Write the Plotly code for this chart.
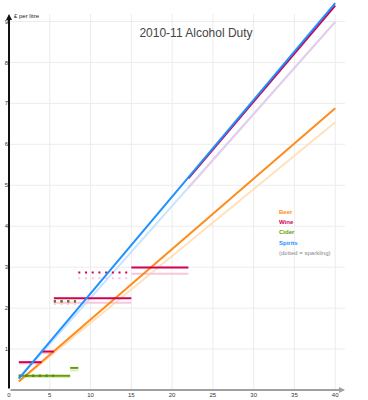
import plotly.graph_objects as go

# ---------------- Data (GBP duty per litre vs %ABV) ----------------
beer_abv = [1.2, 40]
beer_duty = [0.21, 6.88]
beer_duty_prev = [0.20, 6.54]

spirits_abv = [1.2, 40]
spirits_duty = [0.28, 9.45]
spirits_duty_prev = [0.27, 8.99]

wine_band_lo = [1.2, 4.0, 5.5, 15.0]
wine_band_hi = [4.0, 5.5, 15.0, 22.0]
wine_duty = [0.68, 0.94, 2.24, 2.99]
wine_duty_prev = [0.65, 0.90, 2.13, 2.84]

wine_strong_abv = [22, 40]
wine_strong_duty = [5.17, 9.39]
wine_strong_duty_prev = [4.94, 8.99]

spk_wine_lo = [5.5, 8.5]
spk_wine_hi = [8.5, 15.0]
spk_wine_duty = [2.17, 2.87]
spk_wine_duty_prev = [2.10, 2.73]

cider_band_lo = [1.2, 7.5]
cider_band_hi = [7.5, 8.5]
cider_duty = [0.35, 0.54]
cider_duty_prev = [0.32, 0.48]

spk_cider_lo = [1.2, 5.5]
spk_cider_hi = [5.5, 8.5]
spk_cider_duty = [0.35, 2.17]

x_ticks = [0, 5, 10, 15, 20, 25, 30, 35, 40]
y_ticks = [1, 2, 3, 4, 5, 6, 7, 8, 9]

legend_labels = ["Beer", "Wine", "Cider", "Spirits", "(dotted = sparkling)"]

# ---------------- Styles ----------------
ORANGE, ORANGE_L = "#ff8c1a", "#ffe2bd"
BLUE, BLUE_L = "#1e90ff", "#c6e4ff"
WINE, WINE_L = "#d10052", "#f7c8dc"
WINE_L2 = "#e6cdea"
GREEN, GREEN_L = "#66a000", "#d9eac4"
FONT = "Liberation Sans, Arial, sans-serif"
GRID = "#ececec"
DOT = "2px,4.7px"

X_MAX = 41.2      # end of gridlines / x axis arrow
Y_AXIS_TOP = 9.18  # end of y axis arrow / vertical gridlines
Y_RANGE_TOP = 9.5  # plot area extends a little higher so lines are not clipped


def bands(lo, hi, vals):
    xs, ys = [], []
    for a, b, v in zip(lo, hi, vals):
        xs += [a, b, None]
        ys += [v, v, None]
    return xs, ys


fig = go.Figure()


def add(x, y, color, width=2, dash=None):
    fig.add_trace(go.Scatter(x=x, y=y, mode="lines", showlegend=False, hoverinfo="skip",
                             line=dict(color=color, width=width, dash=dash)))


# previous-year (faded) lines
add(beer_abv, beer_duty_prev, ORANGE_L)
add(spirits_abv, spirits_duty_prev, BLUE_L)
add(wine_strong_abv, wine_strong_duty_prev, WINE_L2)
add(*bands(wine_band_lo, wine_band_hi, wine_duty_prev), WINE_L)
add(*bands(spk_wine_lo, spk_wine_hi, spk_wine_duty_prev), WINE_L, dash=DOT)
add(*bands(cider_band_lo, cider_band_hi, cider_duty_prev), GREEN_L)

# current lines
add(beer_abv, beer_duty, ORANGE)
add(*bands(wine_band_lo, wine_band_hi, wine_duty), WINE)
add(*bands(cider_band_lo, cider_band_hi, cider_duty), GREEN)
add(*bands(spk_wine_lo, spk_wine_hi, spk_wine_duty), WINE, dash=DOT)
add(*bands(spk_cider_lo, spk_cider_hi, spk_cider_duty), "#4f8a00", width=2.5, dash=DOT)
add(wine_strong_abv, wine_strong_duty, WINE)
add(spirits_abv, spirits_duty, BLUE)

# gridlines as shapes (so they stop where the reference's grid stops)
shapes = []
for v in x_ticks[1:]:
    shapes.append(dict(type="line", xref="x", yref="y", x0=v, x1=v, y0=0, y1=Y_AXIS_TOP,
                       line=dict(color=GRID, width=1), layer="below"))
for v in y_ticks:
    shapes.append(dict(type="line", xref="x", yref="y", x0=0, x1=X_MAX, y0=v, y1=v,
                       line=dict(color=GRID, width=1), layer="below"))

annotations = [
    # y axis with arrow
    dict(x=0, y=Y_AXIS_TOP, ax=0, ay=0, xref="x", yref="y", axref="x", ayref="y", text="",
         showarrow=True, arrowhead=2, arrowsize=0.6, arrowwidth=2, arrowcolor="#111"),
    # x axis with arrow
    dict(x=X_MAX, y=0, ax=0, ay=0, xref="x", yref="y", axref="x", ayref="y", text="",
         showarrow=True, arrowhead=2, arrowsize=0.6, arrowwidth=2, arrowcolor="#a0a0a0"),
    dict(x=0.35, y=Y_AXIS_TOP - 0.05, xref="x", yref="y", xanchor="left", yanchor="middle",
         text="£ per litre", showarrow=False, font=dict(family=FONT, size=6, color="#222")),
    dict(x=X_MAX + 0.2, y=0, xref="x", yref="y", xanchor="left", yanchor="middle",
         text="%ABV", showarrow=False, font=dict(family=FONT, size=5.5, color="#333")),
]

# legend-like labels
leg_colors = [ORANGE, WINE, GREEN, BLUE, "#888"]
leg_y = [212, 222.3, 232.3, 242.7, 253]
PX_PER_Y = 41.0
for lab, col, py in zip(legend_labels, leg_colors, leg_y):
    annotations.append(dict(xref="x", yref="y", x=(277 - 9.3) / 8.14, y=(390.3 - py) / PX_PER_Y,
                            xanchor="left", yanchor="middle", text=lab, showarrow=False,
                            font=dict(family=FONT, size=6, color=col,
                                      weight="bold" if lab != legend_labels[-1] else "normal")))

fig.update_layout(
    width=368, height=400,
    margin=dict(l=9, r=23, t=1, b=10),
    paper_bgcolor="white", plot_bgcolor="white",
    title=dict(text="2010-11 Alcohol Duty", x=196 / 368, xanchor="center", xref="container",
               y=1 - 33 / 400, yanchor="middle", yref="container",
               font=dict(family=FONT, size=12, color="#444")),
    xaxis=dict(range=[0, X_MAX], tickvals=x_ticks, ticktext=[str(v) for v in x_ticks],
               showgrid=False, zeroline=False, showline=False, automargin=False,
               ticks="", tickfont=dict(family=FONT, size=6, color="#333"), fixedrange=True),
    yaxis=dict(range=[0, Y_RANGE_TOP], tickvals=y_ticks, ticktext=[str(v) for v in y_ticks],
               showgrid=False, zeroline=False, showline=False, automargin=False,
               ticks="", tickfont=dict(family=FONT, size=6, color="#333"), fixedrange=True),
    shapes=shapes,
    annotations=annotations,
)

fig.write_html("out.html", config={"displayModeBar": False},
               post_script="document.body.style.margin='0';document.body.style.overflow='hidden';")
